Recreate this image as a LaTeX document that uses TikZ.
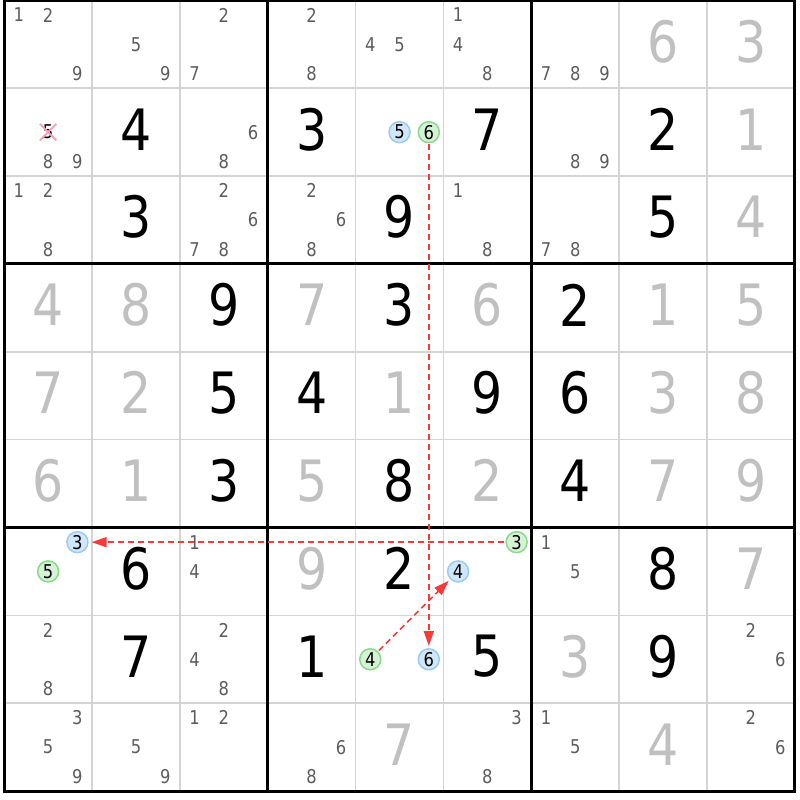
\documentclass[tikz,border=0pt]{standalone}
\usepackage{fontspec}
\setmainfont[FakeStretch=0.86]{DejaVu Sans}
\usetikzlibrary{arrows.meta}

\definecolor{solvedgrey}{HTML}{C0C0C0}
\definecolor{candgrey}{HTML}{5C5C5C}
\definecolor{gridgrey}{HTML}{D4D4D4}
\definecolor{linkred}{HTML}{F53A3A}
\definecolor{bluefill}{HTML}{D0E6FA}
\definecolor{bluedraw}{HTML}{9CCAF2}
\definecolor{greenfill}{HTML}{D6F2D6}
\definecolor{greendraw}{HTML}{8AD88A}
\definecolor{strikepink}{HTML}{F4A3B4}

\tikzset{
  given/.style={inner sep=0pt, font=\fontsize{57}{57}\selectfont},
  solved/.style={given, text=solvedgrey},
  cand/.style={inner sep=0pt, font=\fontsize{19}{19}\selectfont, text=candgrey},
  bluecand/.style={circle, inner sep=0pt, minimum size=21pt, line width=1.5pt,
    draw=bluedraw, fill=bluefill, font=\fontsize{19}{19}\selectfont},
  greencand/.style={bluecand, draw=greendraw, fill=greenfill},
  link/.style={draw=linkred, line width=1.5pt, dash pattern=on 6pt off 4pt,
    -{Triangle[length=15pt,width=10pt]}, shorten <=1pt, shorten >=2pt},
  strike/.style={draw=strikepink, line width=2pt},
}

\begin{document}
\begin{tikzpicture}[x=87.85pt,y=-87.85pt]
  \useasboundingbox (-4.2pt,0.4pt) rectangle (795.8pt,-799.6pt);
  % thin cell lines
  \foreach \i in {1,2,4,5,7,8} {
    \draw[gridgrey, line width=1.6pt] (\i,0) -- (\i,9);
    \draw[gridgrey, line width=1.6pt] (0,\i) -- (9,\i);
  }
  % box lines
  \foreach \i in {3,6} {
    \draw[line width=3pt] (\i,0) -- (\i,9);
    \draw[line width=3pt] (0,\i) -- (9,\i);
  }
  \draw[line width=3pt] (0,0) rectangle (9,9);

  % given digits
  \foreach \r/\c/\d in {2/2/4, 2/4/3, 2/6/7, 2/8/2, 3/2/3, 3/5/9, 3/8/5,
      4/3/9, 4/5/3, 4/7/2, 5/3/5, 5/4/4, 5/6/9, 5/7/6, 6/3/3, 6/5/8, 6/7/4,
      7/2/6, 7/5/2, 7/8/8, 8/2/7, 8/4/1, 8/6/5, 8/8/9}
    \node[given] (g\r\c) at (\c-0.5,\r-0.533) {\d};
  % solved digits
  \foreach \r/\c/\d in {1/8/6, 1/9/3, 2/9/1, 3/9/4,
      4/1/4, 4/2/8, 4/4/7, 4/6/6, 4/8/1, 4/9/5,
      5/1/7, 5/2/2, 5/5/1, 5/8/3, 5/9/8,
      6/1/6, 6/2/1, 6/4/5, 6/6/2, 6/8/7, 6/9/9,
      7/4/9, 7/9/7, 8/7/3, 9/5/7, 9/8/4}
    \node[solved] (s\r\c) at (\c-0.5,\r-0.533) {\d};

  % candidates
  \foreach \r/\c/\ns in {1/1/{1,2,9}, 1/2/{5,9}, 1/3/{2,7}, 1/4/{2,8},
      1/5/{4,5}, 1/6/{1,4,8}, 1/7/{7,8,9},
      2/1/{8,9}, 2/3/{6,8}, 2/7/{8,9},
      3/1/{1,2,8}, 3/3/{2,6,7,8}, 3/4/{2,6,8}, 3/6/{1,8}, 3/7/{7,8},
      7/3/{1,4}, 7/7/{1,5},
      8/1/{2,8}, 8/3/{2,4,8}, 8/9/{2,6},
      9/1/{3,5,9}, 9/2/{5,9}, 9/3/{1,2}, 9/4/{6,8}, 9/6/{3,8},
      9/7/{1,5}, 9/9/{2,6}}
    \foreach \n in \ns {
      \pgfmathsetmacro\cx{\c-1+(mod(\n-1,3)+0.5)/3}
      \pgfmathsetmacro\cy{\r-1+(floor((\n-1)/3)+0.5)/3}
      \node[cand] (k\r\c\n) at (\cx,\cy) {\n};
    }

  % eliminated candidate
  \node[cand, text=black, minimum size=16pt] (x215) at (0.5,1.5) {5};
  \draw[strike] (x215.north west) -- (x215.south east)
                (x215.north east) -- (x215.south west);

  % chain candidates
  \node[bluecand]  (b255) at (4.5,1.5) {5};
  \node[greencand] (e256) at (4.8333,1.5) {6};
  \node[bluecand]  (b713) at (0.8333,6.1667) {3};
  \node[greencand] (e715) at (0.5,6.5) {5};
  \node[greencand] (e763) at (5.8333,6.1667) {3};
  \node[bluecand]  (b764) at (5.1667,6.5) {4};
  \node[greencand] (e854) at (4.1667,7.5) {4};
  \node[bluecand]  (b856) at (4.8333,7.5) {6};

  % links
  \draw[link] (e256) -- (b856);
  \draw[link, shorten >=3pt] (e763) -- (b713);
  \draw[link] (e854) -- (b764);
\end{tikzpicture}
\end{document}
